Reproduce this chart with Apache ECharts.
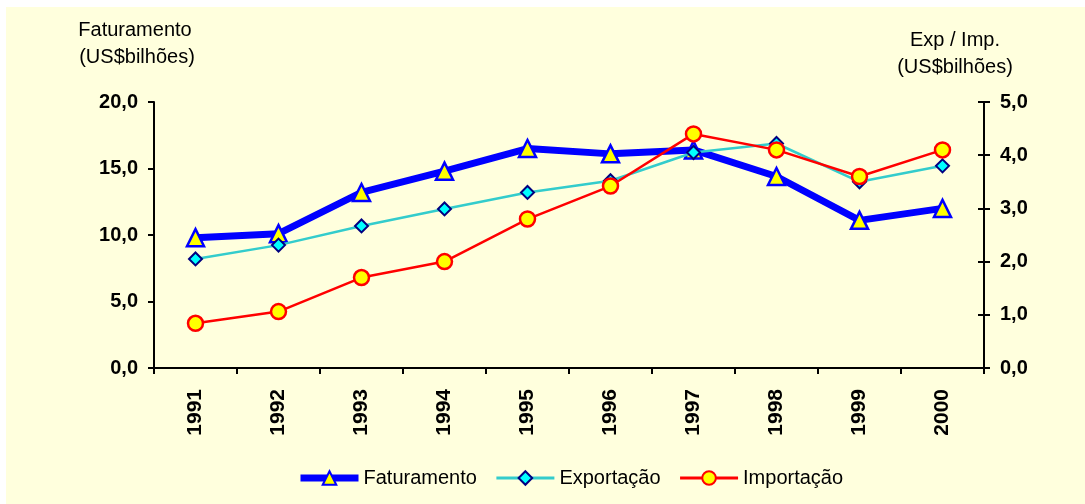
<!DOCTYPE html>
<html><head><meta charset="utf-8">
<script src="https://cdn.jsdelivr.net/npm/echarts@6/dist/echarts.min.js"></script>
<style>html,body{margin:0;padding:0;background:#fff;}#c{width:1085px;height:504px;}</style>
</head><body><div id="c"></div>
<script>
const categories = ['1991','1992','1993','1994','1995','1996','1997','1998','1999','2000'];
const faturamento = [9.8, 10.1, 13.2, 14.8, 16.5, 16.1, 16.4, 14.4, 11.1, 12.0];
const exportacao = [2.05, 2.31, 2.67, 2.99, 3.30, 3.52, 4.05, 4.22, 3.50, 3.80];
const importacao = [0.84, 1.06, 1.70, 2.00, 2.80, 3.42, 4.40, 4.10, 3.60, 4.10];
const leftTicks = {min: 0, max: 20, interval: 5};
const rightTicks = {min: 0, max: 5, interval: 1};

const fmt = v => v.toFixed(1).replace('.', ',');
const F = 'Arial, "Liberation Sans", sans-serif';
const chart = echarts.init(document.getElementById('c'), null, {renderer: 'canvas'});
const lblStyle = {color: '#000', fontWeight: 'bold', fontSize: 20, fontFamily: F};
const titleText = (t, x, y) => ({type: 'text', style: {text: t, x: x, y: y, textAlign: 'center', textVerticalAlign: 'middle', fontSize: 20, fontFamily: F, fill: '#000'}});
chart.setOption({
  animation: false,
  backgroundColor: '#fff',
  graphic: [
    {type: 'rect', shape: {x: 6, y: 7, width: 1079, height: 497}, style: {fill: '#FFFFDD'}, z: -10},
    titleText('Faturamento', 135, 30),
    titleText('(US$bilhões)', 137, 57),
    titleText('Exp / Imp.', 955, 40),
    titleText('(US$bilhões)', 955, 67)
  ],
  grid: {left: 154, right: 101, top: 102, bottom: 136, containLabel: false},
  legend: {
    left: 297, top: 468, padding: 0, itemWidth: 58, itemHeight: 17, itemGap: 18,
    textStyle: {fontSize: 20, fontFamily: F, color: '#000'},
    data: [
      {name: 'Faturamento', lineStyle: {width: 7}},
      {name: 'Exportação', lineStyle: {width: 3}},
      {name: 'Importação', lineStyle: {width: 3}}
    ]
  },
  xAxis: {
    type: 'category', data: categories, boundaryGap: true,
    axisLine: {lineStyle: {color: '#000', width: 2}},
    axisTick: {show: true, length: 6, lineStyle: {color: '#000', width: 2}},
    axisLabel: Object.assign({rotate: 90, margin: 21, interval: 0}, lblStyle, {fontSize: 21}),
    splitLine: {show: false}
  },
  yAxis: [
    Object.assign({type: 'value', position: 'left',
      axisLine: {show: true, lineStyle: {color: '#000', width: 2}},
      axisTick: {show: true, length: 6, lineStyle: {color: '#000', width: 2}},
      axisLabel: Object.assign({formatter: fmt, margin: 16}, lblStyle),
      splitLine: {show: false}}, leftTicks),
    Object.assign({type: 'value', position: 'right',
      axisLine: {show: true, lineStyle: {color: '#000', width: 2}},
      axisTick: {show: true, length: 6, lineStyle: {color: '#000', width: 2}},
      axisLabel: Object.assign({formatter: fmt, margin: 16}, lblStyle),
      splitLine: {show: false}}, rightTicks),
    Object.assign({type: 'value', position: 'right',
      axisLine: {show: false},
      axisTick: {show: true, inside: true, length: 6, lineStyle: {color: '#000', width: 2}},
      axisLabel: {show: false},
      splitLine: {show: false}}, rightTicks)
  ],
  series: [
    {name: 'Faturamento', type: 'line', yAxisIndex: 0, data: faturamento,
      lineStyle: {color: '#0000FF', width: 7}, itemStyle: {color: '#FFFF00', borderColor: '#0000FF', borderWidth: 2.5},
      symbol: 'triangle', symbolSize: 17, z: 3},
    {name: 'Exportação', type: 'line', yAxisIndex: 1, data: exportacao,
      lineStyle: {color: '#33CCCC', width: 2.5}, itemStyle: {color: '#00FFFF', borderColor: '#000080', borderWidth: 2},
      symbol: 'diamond', symbolSize: 13, z: 4},
    {name: 'Importação', type: 'line', yAxisIndex: 1, data: importacao,
      lineStyle: {color: '#FF0000', width: 2.5}, itemStyle: {color: '#FFFF00', borderColor: '#FF0000', borderWidth: 2.5},
      symbol: 'circle', symbolSize: 15, z: 5}
  ]
});
</script></body></html>
